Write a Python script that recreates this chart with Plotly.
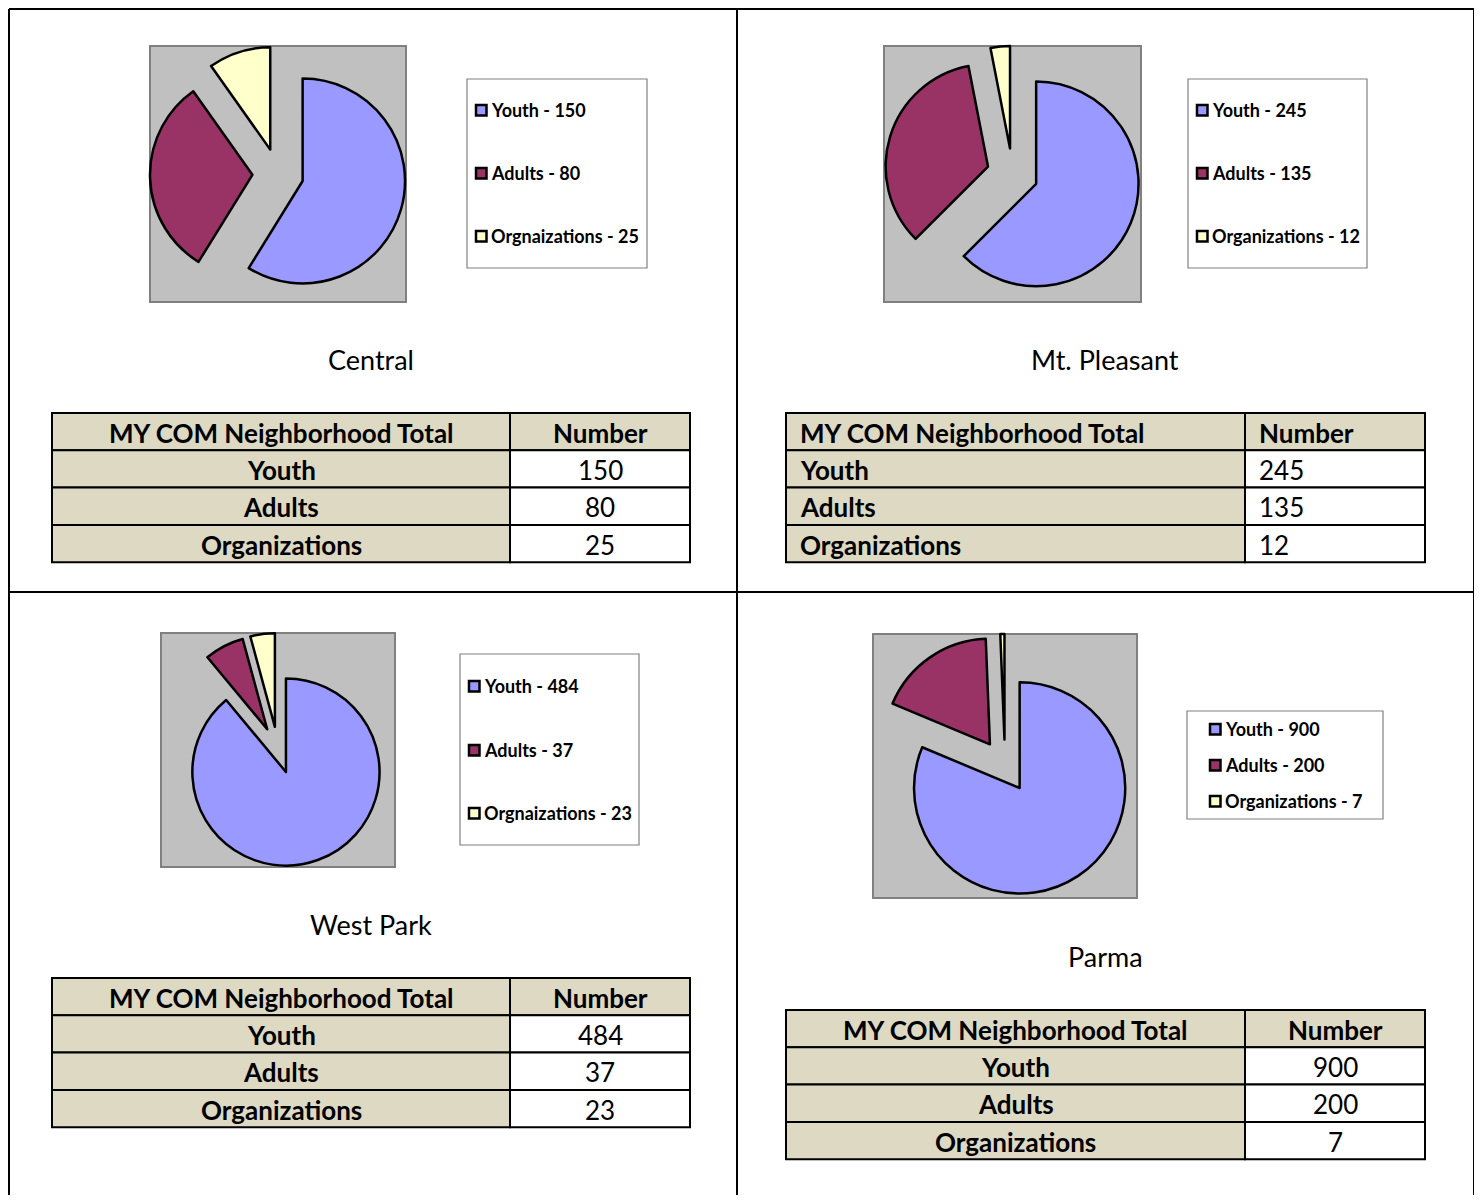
import plotly.graph_objects as go

# ---------------- data ----------------
regions = ["Central", "Mt. Pleasant", "West Park", "Parma"]
categories = ["Youth", "Adults", "Organizations"]
legend_labels = [
    ["Youth", "Adults", "Orgnaizations"],
    ["Youth", "Adults", "Organizations"],
    ["Youth", "Adults", "Orgnaizations"],
    ["Youth", "Adults", "Organizations"],
]
central_values = [150, 80, 25]
mt_pleasant_values = [245, 135, 12]
west_park_values = [484, 37, 23]
parma_values = [900, 200, 7]
all_values = [central_values, mt_pleasant_values, west_park_values, parma_values]
table_header = ["MY COM Neighborhood Total", "Number"]

# ---------------- style ----------------
slice_colors = ["#9999FF", "#993366", "#FFFFCC"]
tan = "#DDD9C3"
FONT = "Lato, Carlito, Calibri, sans-serif"

W, H = 1466, 1187
OFF = 8


def X(px):
    return min(1.0, max(0.0, (px - OFF) / W))


def Y(py):
    return min(1.0, max(0.0, 1 - (py - OFF) / H))


# layout geometry per panel (pixel coords in the page)
pie_boxes = [(150, 46, 406, 302), (884, 46, 1141, 302), (161, 633, 395, 867), (873, 634, 1137, 898)]
legend_boxes = [(467, 79, 647, 268), (1188, 79, 1367, 268), (460, 654, 639, 845), (1187, 711, 1383, 819)]
legend_item_y = [[110, 173, 236], [110, 173, 236], [686, 750, 813], [729, 765, 801]]
legend_marker_x = [476, 1197, 469, 1210]
title_pos = [(371, 359), (1105, 359), (371, 924), (1105, 956)]
table_boxes = [(52, 413, 510, 690), (786, 413, 1245, 1425), (52, 978, 510, 690), (786, 1010, 1245, 1425)]
table_align = ["center", "left", "center", "center"]
ROW_H = 37.3

fig = go.Figure()
shapes = []
annotations = []


def cell_text(text, cx0, cx1, cy0, cy1, align, bold):
    t = f"<b>{text}</b>" if bold else str(text)
    if align == "center":
        x, xa = X((cx0 + cx1) / 2), "center"
    else:
        x, xa = X(cx0 + 12), "left"
    annotations.append(dict(xref="paper", yref="paper", x=x, y=Y((cy0 + cy1) / 2 + 1), xanchor=xa,
                            yanchor="middle", showarrow=False, text=t,
                            font=dict(family=FONT, size=26, color="black")))


for i, region in enumerate(regions):
    x0, y0, x1, y1 = pie_boxes[i]
    shapes.append(dict(type="rect", xref="paper", yref="paper", x0=X(x0), x1=X(x1), y0=Y(y1), y1=Y(y0),
                       fillcolor="#C0C0C0", line=dict(color="#808080", width=2), layer="below"))
    fig.add_trace(go.Pie(
        labels=categories, values=all_values[i], sort=False, direction="clockwise", rotation=0,
        pull=[0.25, 0.25, 0.25], textinfo="none", hoverinfo="label+value",
        marker=dict(colors=slice_colors, line=dict(color="black", width=2.5)),
        domain=dict(x=[X(x0), X(x1)], y=[Y(y1), Y(y0)]), showlegend=False, name=region,
    ))

    # legend
    lx0, ly0, lx1, ly1 = legend_boxes[i]
    shapes.append(dict(type="rect", xref="paper", yref="paper", x0=X(lx0), x1=X(lx1), y0=Y(ly1), y1=Y(ly0),
                       fillcolor="white", line=dict(color="#808080", width=1.2)))
    mx = legend_marker_x[i]
    for j, lab in enumerate(legend_labels[i]):
        yy = legend_item_y[i][j]
        shapes.append(dict(type="rect", xref="paper", yref="paper", x0=X(mx), x1=X(mx + 10.5),
                           y0=Y(yy + 5.5), y1=Y(yy - 5), fillcolor=slice_colors[j],
                           line=dict(color="black", width=2.5)))
        annotations.append(dict(xref="paper", yref="paper", x=X(mx + 12.5), y=Y(yy), xanchor="left",
                                yanchor="middle", showarrow=False,
                                text=f"<b>{lab} - {all_values[i][j]}</b>",
                                font=dict(family=FONT, size=18, color="black")))

    # title
    tx, ty = title_pos[i]
    annotations.append(dict(xref="paper", yref="paper", x=X(tx), y=Y(ty), xanchor="center", yanchor="middle",
                            showarrow=False, text=region, font=dict(family=FONT, size=27, color="black")))

    # table
    tx0, ty0, txs, tx1 = table_boxes[i]
    al = table_align[i]
    rows = [(table_header[0], table_header[1], True)] + [
        (c, v, False) for c, v in zip(categories, all_values[i])]
    for r, (lab, val, is_header) in enumerate(rows):
        ry0 = ty0 + r * ROW_H
        ry1 = ry0 + ROW_H
        shapes.append(dict(type="rect", xref="paper", yref="paper", x0=X(tx0), x1=X(txs), y0=Y(ry1), y1=Y(ry0),
                           fillcolor=tan, line=dict(color="black", width=2)))
        shapes.append(dict(type="rect", xref="paper", yref="paper", x0=X(txs), x1=X(tx1), y0=Y(ry1), y1=Y(ry0),
                           fillcolor=tan if is_header else "white", line=dict(color="black", width=2)))
        cell_text(lab, tx0, txs, ry0, ry1, al, True)
        cell_text(val, txs, tx1, ry0, ry1, al, is_header)

# page grid lines
grid = [
    (7, 4, 1475, 4), (7, 4, 7, 1203), (737, 4, 737, 1203), (1475, 4, 1475, 1203), (7, 592, 1475, 592),
]
for gx0, gy0, gx1, gy1 in grid:
    shapes.append(dict(type="line", xref="paper", yref="paper", x0=X(max(gx0, OFF + 1)), y0=Y(max(gy0, OFF + 1)),
                       x1=X(max(gx1, OFF + 1)), y1=Y(max(gy1, OFF + 1)), line=dict(color="black", width=2)))

fig.update_layout(
    width=W, height=H, margin=dict(l=0, r=0, t=0, b=0), paper_bgcolor="white", plot_bgcolor="white",
    shapes=shapes, annotations=annotations, showlegend=False,
)

fig.write_html("out.html")
